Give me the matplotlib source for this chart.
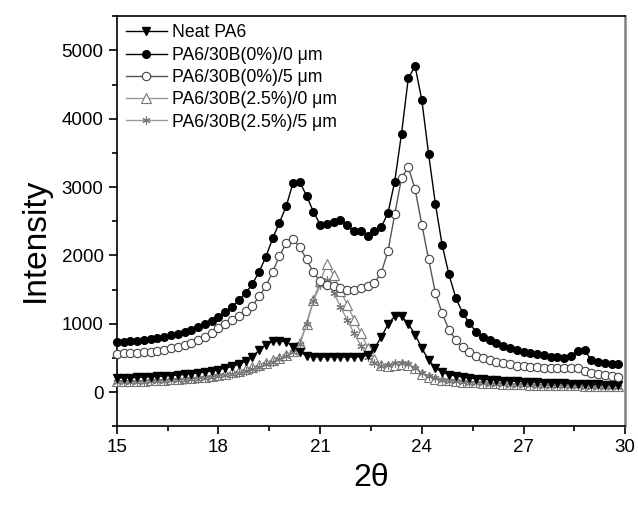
import numpy as np
import matplotlib.pyplot as plt
from matplotlib.ticker import MultipleLocator

plt.rcParams["font.family"] = ["Liberation Sans", "DejaVu Sans"]

# 2-theta grid of the scans (0.2 deg step)
two_theta = np.round(np.arange(15.0, 29.81, 0.2), 1)

neat_pa6 = [
    205, 207, 210, 213, 217, 222, 228, 234, 241, 249,
    258, 268, 280, 293, 308, 326, 348, 375, 408, 450,
    520, 610, 690, 740, 745, 738, 665, 590, 530, 515,
    512, 512, 512, 512, 512, 512, 520, 545, 640, 800,
    990, 1110, 1110, 1000, 840, 640, 470, 350, 290, 255,
    235, 220, 205, 195, 185, 178, 172, 166, 160, 155,
    150, 146, 142, 138, 134, 130, 127, 124, 121, 118,
    115, 112, 110, 108, 105,
]
b0_0um = [
    730, 738, 745, 752, 762, 775, 790, 808, 830, 855,
    885, 915, 950, 995, 1045, 1105, 1175, 1250, 1340, 1450,
    1580, 1760, 1980, 2250, 2480, 2720, 3060, 3075, 2870, 2640,
    2450, 2460, 2490, 2520, 2450, 2350, 2360, 2290, 2360, 2410,
    2620, 3080, 3780, 4590, 4770, 4270, 3480, 2750, 2150, 1720,
    1380, 1160, 1010, 880, 805, 755, 715, 678, 645, 612,
    585, 565, 550, 535, 520, 508, 495, 530, 605, 610,
    470, 435, 420, 410, 405,
]
b0_5um = [
    560, 565, 570, 578, 585, 592, 605, 620, 640, 662,
    690, 722, 762, 808, 860, 930, 990, 1056, 1120, 1190,
    1260, 1400, 1550, 1760, 1990, 2180, 2240, 2120, 1940, 1750,
    1620, 1570, 1545, 1520, 1500, 1495, 1520, 1555, 1600, 1740,
    2060, 2600, 3130, 3290, 2970, 2450, 1940, 1450, 1150, 910,
    765, 665, 590, 530, 495, 470, 445, 425, 405, 385,
    375, 365, 360, 355, 350, 345, 345, 355, 350, 310,
    280, 265, 250, 240, 225,
]
b25_0um = [
    160, 158, 162, 165, 168, 172, 176, 181, 186, 192,
    199, 207, 216, 226, 238, 252, 268, 287, 308, 333,
    362, 395, 430, 468, 505, 545, 600, 720, 1000, 1350,
    1620, 1870, 1710, 1480, 1280, 1060, 870, 650, 480, 390,
    380, 395, 405, 395, 345, 270, 225, 195, 180, 170,
    160, 152, 146, 140, 135, 130, 126, 122, 119, 116,
    113, 110, 108, 106, 104, 102, 100, 98, 97, 95,
    94, 92, 91, 90, 88,
]
b25_5um = [
    140, 145, 142, 148, 150, 156, 158, 165, 170, 176,
    182, 190, 198, 208, 220, 233, 248, 266, 286, 310,
    338, 370, 405, 443, 482, 525, 590, 700, 990, 1330,
    1560, 1640, 1450, 1250, 1050, 860, 680, 520, 430, 385,
    400, 420, 430, 410, 350, 280, 230, 200, 182, 168,
    155, 146, 138, 130, 126, 120, 116, 112, 108, 104,
    100, 98, 95, 93, 90, 88, 86, 84, 82, 80,
    78, 76, 75, 73, 72,
]

labels = ["Neat PA6", "PA6/30B(0%)/0 \u03bcm", "PA6/30B(0%)/5 \u03bcm",
          "PA6/30B(2.5%)/0 \u03bcm", "PA6/30B(2.5%)/5 \u03bcm"]

fig = plt.figure(figsize=(6.38, 5.05), dpi=100)
ax = fig.add_axes([0.183, 0.156, 0.797, 0.812])

ax.plot(two_theta, neat_pa6, color="black", lw=1, marker="v", ms=6,
        mfc="black", mec="black", label=labels[0], clip_on=False, zorder=4)
ax.plot(two_theta, b0_0um, color="black", lw=1, marker="o", ms=5.5,
        mfc="black", mec="black", label=labels[1], clip_on=False, zorder=5)
ax.plot(two_theta, b0_5um, color="#555555", lw=1, marker="o", ms=6,
        mfc="white", mec="#444444", mew=0.8, label=labels[2], clip_on=False, zorder=4)
ax.plot(two_theta, b25_0um, color="#999999", lw=1, marker="^", ms=6.5,
        mfc="white", mec="#777777", mew=0.8, label=labels[3], clip_on=False, zorder=3)
ax.plot(two_theta, b25_5um, color="#999999", lw=1, marker=(6, 2, 0), ms=6,
        mec="#777777", mew=0.8, label=labels[4], clip_on=False, zorder=3)

ax.set_xlim(15, 30)
ax.set_ylim(-500, 5500)
ax.xaxis.set_major_locator(MultipleLocator(3))
ax.xaxis.set_minor_locator(MultipleLocator(1.5))
ax.yaxis.set_major_locator(MultipleLocator(1000))
ax.yaxis.set_minor_locator(MultipleLocator(500))
ax.tick_params(which="major", direction="out", length=6, width=1.2, labelsize=13.5)
ax.tick_params(which="minor", direction="out", length=3.5, width=1.2)
for side in ["left", "bottom", "top"]:
    ax.spines[side].set_linewidth(1.2)
ax.spines["right"].set_linewidth(1.8)
ax.spines["right"].set_color("#808080")

ax.set_xlabel("2\u03b8", fontsize=23)
ax.set_ylabel("Intensity", fontsize=24)
ax.xaxis.set_label_coords(0.5, -0.09)
ax.yaxis.set_label_coords(-0.13, 0.455)

ax.legend(loc="upper left", bbox_to_anchor=(-0.006, 1.01), frameon=False,
          fontsize=12.7, handlelength=2.3, handletextpad=0.3, labelspacing=0.3,
          borderaxespad=0.3)

fig.savefig("out.png", dpi=100)
